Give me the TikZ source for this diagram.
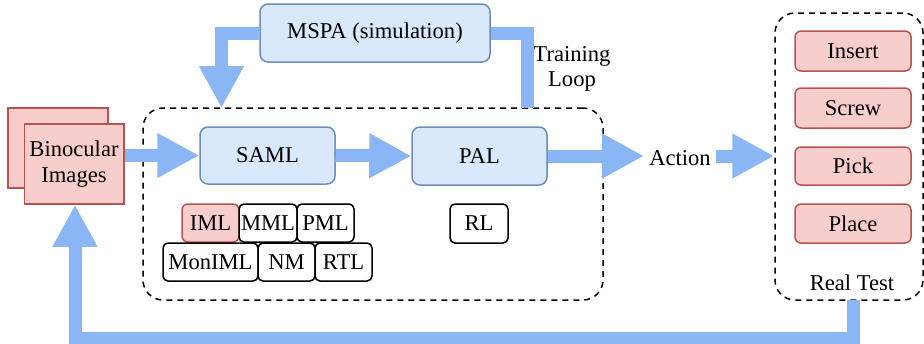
\documentclass[tikz,border=0pt]{standalone}
\usepackage{fontspec}
\setmainfont{Liberation Serif}
\usetikzlibrary{arrows.meta}
\definecolor{arrowblue}{RGB}{138,182,245}
\definecolor{bluefill}{HTML}{DAE8FC}
\definecolor{bluedraw}{HTML}{6C8EBF}
\definecolor{redfill}{HTML}{F8CECC}
\definecolor{reddraw}{HTML}{B85450}
\tikzset{
  every node/.style={font=\fontsize{22.6}{25.5}\selectfont, inner sep=0pt, align=center},
  bluebox/.style={draw=bluedraw, fill=bluefill, line width=1.5pt, rounded corners=8pt},
  redbox/.style={draw=reddraw, fill=redfill, line width=1.5pt, rounded corners=6pt},
  imgbox/.style={draw=reddraw, fill=redfill, line width=1.5pt},
  smallbox/.style={draw=black, fill=white, line width=1.5pt, rounded corners=5pt, minimum height=38pt},
  frame/.style={draw=black, dashed, dash pattern=on 6pt off 5pt, line width=1.5pt, rounded corners=20pt},
  fatline/.style={draw=arrowblue, line width=13pt, line cap=butt, line join=miter},
  fatarrow/.style={fatline, -{Triangle[length=42pt,width=42pt]}},
}
\begin{document}
\begin{tikzpicture}[x=1pt,y=-1pt]
\useasboundingbox (0,0) rectangle (924,343);
% frames
\node[frame, minimum width=460pt, minimum height=192pt] (frame) at (373,204) {};
\node[frame, minimum width=148pt, minimum height=287pt] (real) at (849,156.5) {};
% binocular images
\node[imgbox, minimum width=100pt, minimum height=80pt] (imgback) at (58,148) {};
\node[imgbox, minimum width=99.5pt, minimum height=80pt] (img) at (74,164) {Binocular\\Images};
% main boxes
\node[bluebox, minimum width=135pt, minimum height=57pt] (saml) at (267.5,155.5) {SAML};
\node[bluebox, minimum width=135pt, minimum height=58pt] (pal) at (479.5,156) {PAL};
\node[bluebox, minimum width=230pt, minimum height=58pt] (mspa) at (375,33) {MSPA (simulation)};
% small boxes
\node[smallbox, redbox, minimum width=57pt, minimum height=38pt] (iml) at (210.5,223) {IML};
\node[smallbox, minimum width=58pt] (mml) at (268,223) {MML};
\node[smallbox, minimum width=57pt] (pml) at (325.5,223) {PML};
\node[smallbox, minimum width=95pt] (moniml) at (210.5,262) {MonIML};
\node[smallbox, minimum width=57pt] (nm) at (286.5,262) {NM};
\node[smallbox, minimum width=57pt] (rtl) at (343.5,262) {RTL};
\node[smallbox, minimum width=58pt, minimum height=39pt] (rl) at (479,223.5) {RL};
% real test
\node[redbox, minimum width=116pt, minimum height=40pt] (insert) at (853,51) {Insert};
\node[redbox, minimum width=116pt, minimum height=40pt] (screw) at (853,108) {Screw};
\node[redbox, minimum width=116pt, minimum height=38pt] (pick) at (853,166) {Pick};
\node[redbox, minimum width=116pt, minimum height=39pt] (place) at (853,223.5) {Place};
\node (realtxt) at (852,283) {Real Test};
% labels
\node[inner xsep=5pt] (action) at (680,158) {Action};
\node (train) at (572,69) {Training\\Loop};
% coordinates
\coordinate (lt) at (221.5,108);
\coordinate (rt) at (527.5,108);
\coordinate (rb) at (853.5,300);
\coordinate (bl) at (75,338);
% arrows
\draw[fatarrow] (img.east |- saml.west) -- (saml.west);
\draw[fatarrow] (saml.east) -- (pal.west);
\draw[fatarrow] (pal.east) -- (action.west |- pal.east);
\draw[fatarrow] (action.east |- pal.east) -- (real.west |- pal.east);
\draw[fatarrow] (mspa.west) -| (lt);
\draw[fatline] (mspa.east) -| (rt);
\draw[fatarrow] (rb) |- (bl) -- (bl |- img.south);
\end{tikzpicture}
\end{document}
